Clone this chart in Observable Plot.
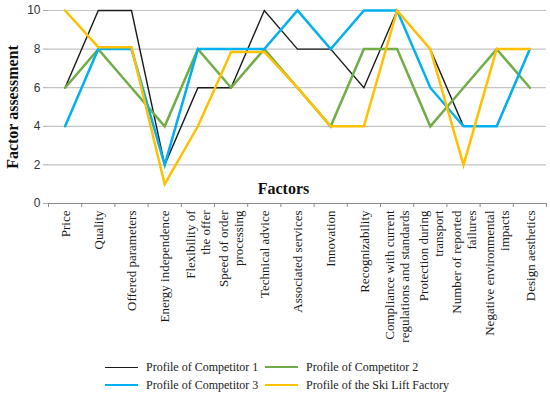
<!DOCTYPE html>
<html><head><meta charset="utf-8">
<script src="https://cdn.jsdelivr.net/npm/d3@7"></script>
<script src="https://cdn.jsdelivr.net/npm/@observablehq/plot@0.6"></script>
<style>
body{margin:0;background:#fff;width:550px;height:394px;overflow:hidden}
#legend{position:relative;height:36px;font-family:"Liberation Serif",serif;font-size:12px;color:#222}
.item{position:absolute;display:flex;align-items:center;height:18px}
.sw{width:33px;margin-right:8px}
</style></head>
<body>
<div id="chart"></div>
<div id="legend"></div>
<script>
const categories = ["Price","Quality","Offered parameters","Energy independence","Flexibility of\nthe offer","Speed of order\nprocessing","Technical advice","Associated services","Innovation","Recognizability","Compliance with current\nregulations and standards","Protection during\ntransport","Number of reported\nfailures","Negative environmental\nimpacts","Design aesthetics"];
const seriesNames = ["Profile of Competitor 1","Profile of Competitor 2","Profile of Competitor 3","Profile of the Ski Lift Factory"];
const competitor1 = [6,10,10,2,6,6,10,8,8,6,10,8,4,4,8];
const competitor2 = [6,8,6,4,8,6,8,6,4,8,8,4,6,8,6];
const competitor3 = [4,8,8,2,8,8,8,10,8,10,10,6,4,4,8];
const skiLiftFactory = [10,8.1,8.1,1,4,7.85,7.85,6,4,4,10,8,2,8,8];
const yTicks = [0,2,4,6,8,10];
const colors = ["#1a1a1a","#70ad47","#00b0f0","#ffc000"];
const widths = [1.4,2.5,2.5,2.5];

const allSeries = [competitor1, competitor2, competitor3, skiLiftFactory];
const idx = categories.map((_, i) => i);
const boundaries = d3.range(categories.length + 1).map(i => i - 0.5);

const lineMarks = allSeries.map((vals, s) =>
  Plot.line(vals.map((v, i) => ({i, v})), {x: "i", y: "v", stroke: colors[s], strokeWidth: widths[s], strokeLinejoin: "miter", strokeMiterlimit: 10})
);

const chart = Plot.plot({
  width: 550, height: 358,
  marginLeft: 48, marginRight: 4, marginTop: 10, marginBottom: 155,
  x: {domain: [-0.5, categories.length - 0.5], axis: null},
  y: {domain: [0, 10], axis: null},
  style: {background: "#fff", overflow: "visible"},
  marks: [
    Plot.gridY([2,4,6,8,10], {stroke: "#c4c4c4", strokeOpacity: 1, strokeWidth: 1.2}),
    Plot.axisY({ticks: yTicks, tickSize: 5, stroke: "#aaa", tickPadding: 3, fontSize: 12, fontFamily: "Liberation Sans, Arial, sans-serif", color: "#333", label: null}),
    Plot.ruleY([0], {stroke: "#8a8a8a"}),
    Plot.axisX({ticks: boundaries, tickFormat: () => "", tickSize: 4, stroke: "#8a8a8a", label: null}),
    ...lineMarks,
    Plot.text(idx, {x: i => i, y: () => 0, text: i => categories[i], rotate: -90, textAnchor: "end", lineAnchor: "middle", lineHeight: 1.15, dy: 7, fontFamily: "Liberation Serif, serif", fontSize: 13, fill: "#1a1a1a"}),
    Plot.text(["Factors"], {text: d => d, frameAnchor: "bottom", lineAnchor: "bottom", dx: -14, dy: -10, fontWeight: "bold", fontSize: 16, fontFamily: "Liberation Serif, serif", fill: "#111"}),
    Plot.text(["Factor assessment"], {text: d => d, frameAnchor: "left", textAnchor: "middle", lineAnchor: "middle", rotate: -90, dx: -36, fontWeight: "bold", fontSize: 16, fontFamily: "Liberation Serif, serif", fill: "#111"})
  ]
});
document.getElementById("chart").appendChild(chart);

const legend = document.getElementById("legend");
const pos = [[105,0],[265,0],[105,18],[265,18]];
seriesNames.forEach((name, s) => {
  const it = document.createElement("div");
  it.className = "item";
  it.style.left = pos[s][0] + "px";
  it.style.top = pos[s][1] + "px";
  const sw = document.createElement("div");
  sw.className = "sw";
  sw.style.borderTop = (s === 0 ? 1.5 : 2.5) + "px solid " + colors[s];
  it.appendChild(sw);
  const t = document.createElement("span");
  t.textContent = name;
  it.appendChild(t);
  legend.appendChild(it);
});
</script>
</body></html>
